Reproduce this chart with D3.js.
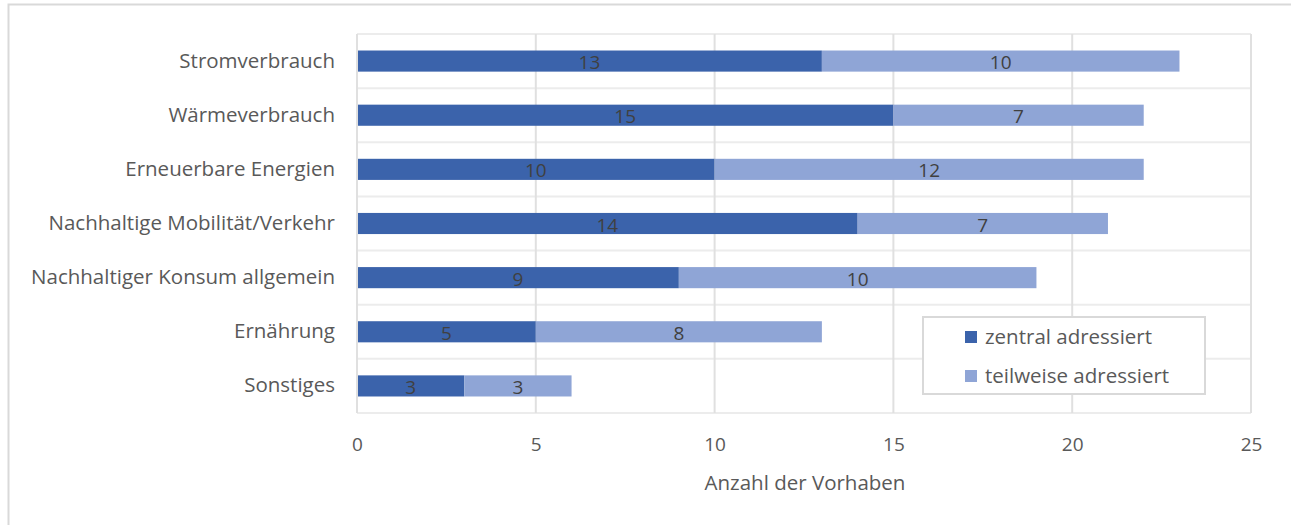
<!DOCTYPE html>
<html>
<head>
<meta charset="utf-8">
<script src="https://cdn.jsdelivr.net/npm/d3@7"></script>
<style>
  body { margin: 0; background: #fff; }
  svg text { font-family: "Open Sans", "Noto Sans", sans-serif; }
</style>
</head>
<body>
<svg id="chart" width="1291" height="525"></svg>
<script>
const categories = [
  "Stromverbrauch",
  "Wärmeverbrauch",
  "Erneuerbare Energien",
  "Nachhaltige Mobilität/Verkehr",
  "Nachhaltiger Konsum allgemein",
  "Ernährung",
  "Sonstiges",
];
const zentral = [13, 15, 10, 14, 9, 5, 3];
const teilweise = [10, 7, 12, 7, 10, 8, 3];
const seriesNames = ["zentral adressiert", "teilweise adressiert"];
const seriesColors = ["#3b63ab", "#8fa5d6"];
const xTicks = [0, 5, 10, 15, 20, 25];
const xTitle = "Anzahl der Vorhaben";

const svg = d3.select("#chart");
const plot = { left: 357, right: 1251, top: 34, bottom: 413 };

// outer chart frame (only top and left edges visible)
svg.append("path")
  .attr("d", "M8.5,525 V4.5 H1291")
  .attr("fill", "none")
  .attr("stroke", "#d9d9d9")
  .attr("stroke-width", 2);

const x = d3.scaleLinear().domain([0, 25]).range([plot.left, plot.right]);
const y = d3.scaleBand().domain(categories).range([plot.top, plot.bottom]).paddingInner(0.61).paddingOuter(0.305);
const yBand = d3.scaleBand().domain(categories).range([plot.top, plot.bottom]);

const grid = svg.append("g").attr("class", "grid");
// horizontal lines at category boundaries
grid.selectAll("line.h")
  .data(categories.concat(["__end"]))
  .join("line")
  .attr("class", "h")
  .attr("x1", plot.left).attr("x2", plot.right)
  .attr("y1", (d, i) => i < categories.length ? yBand(d) : plot.bottom)
  .attr("y2", (d, i) => i < categories.length ? yBand(d) : plot.bottom)
  .attr("stroke", "#ececec")
  .attr("stroke-width", 2);

// vertical gridlines
grid.selectAll("line.v")
  .data(xTicks)
  .join("line")
  .attr("class", "v")
  .attr("x1", d => x(d)).attr("x2", d => x(d))
  .attr("y1", plot.top).attr("y2", plot.bottom)
  .attr("stroke", "#e0e0e0")
  .attr("stroke-width", 2);

const rows = categories.map((c, i) => ({ cat: c, a: zentral[i], b: teilweise[i] }));

const bars = svg.append("g").attr("class", "bars");
bars.selectAll("rect.a")
  .data(rows)
  .join("rect")
  .attr("class", "a")
  .attr("x", d => x(0) + 1)
  .attr("y", d => y(d.cat))
  .attr("width", d => x(d.a) - x(0) - 1)
  .attr("height", y.bandwidth())
  .attr("fill", seriesColors[0]);

bars.selectAll("rect.b")
  .data(rows)
  .join("rect")
  .attr("class", "b")
  .attr("x", d => x(d.a))
  .attr("y", d => y(d.cat))
  .attr("width", d => x(d.a + d.b) - x(d.a))
  .attr("height", y.bandwidth())
  .attr("fill", seriesColors[1]);

// data labels
const labels = svg.append("g").attr("class", "labels")
  .style("font-size", "19px").attr("fill", "#404040").attr("text-anchor", "middle");
labels.selectAll("text.a")
  .data(rows)
  .join("text")
  .attr("x", d => (x(0) + x(d.a)) / 2)
  .attr("y", d => y(d.cat) + y.bandwidth() / 2 + 8)
  .text(d => d.a);
labels.selectAll("text.b")
  .data(rows)
  .join("text")
  .attr("x", d => (x(d.a) + x(d.a + d.b)) / 2)
  .attr("y", d => y(d.cat) + y.bandwidth() / 2 + 8)
  .text(d => d.b);

// y axis labels
const yAxis = svg.append("g")
  .attr("transform", `translate(${plot.left},0)`)
  .call(d3.axisLeft(yBand).tickSize(0).tickPadding(22));
yAxis.select(".domain").remove();
yAxis.selectAll("text").style("font-size", "20.5px").attr("fill", "#595959")
  .style("font-family", "'Open Sans', sans-serif");

// x axis labels
const xAxis = svg.append("g")
  .attr("transform", `translate(0,${plot.bottom})`)
  .call(d3.axisBottom(x).tickValues(xTicks).tickSize(0).tickPadding(25));
xAxis.select(".domain").remove();
xAxis.selectAll("text").style("font-size", "19px").attr("fill", "#595959")
  .style("font-family", "'Open Sans', sans-serif");

svg.append("text")
  .attr("x", 805)
  .attr("y", 490)
  .attr("text-anchor", "middle")
  .style("font-size", "20.5px")
  .attr("fill", "#595959")
  .text(xTitle);

// legend
const legend = svg.append("g").attr("transform", "translate(923,317)");
legend.append("rect")
  .attr("width", 282).attr("height", 77)
  .attr("fill", "#fff").attr("stroke", "#d9d9d9").attr("stroke-width", 2);
const items = legend.selectAll("g.item")
  .data(seriesNames)
  .join("g")
  .attr("class", "item")
  .attr("transform", (d, i) => `translate(42,${14 + i * 39})`);
items.append("rect")
  .attr("width", 12).attr("height", 12)
  .attr("fill", (d, i) => seriesColors[i]);
items.append("text")
  .attr("x", 20).attr("y", 13)
  .style("font-size", "20.5px").attr("fill", "#595959")
  .text(d => d);
</script>
</body>
</html>
